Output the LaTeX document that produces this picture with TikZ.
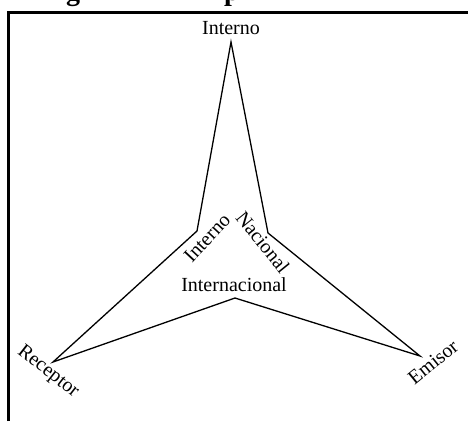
\documentclass[tikz,border=0pt]{standalone}
\usepackage{fontspec}
\setmainfont{Liberation Serif}
\begin{document}
\begin{tikzpicture}[x=1pt,y=-1pt,
  lbl/.style={inner sep=0pt,font=\fontsize{20}{24}\selectfont},
  ttl/.style={inner sep=0pt,font=\fontsize{28}{32}\selectfont\bfseries,anchor=base},
  edge/.style={line width=1.3pt,line join=miter}]
\useasboundingbox (0,0) rectangle (468,421);
% cropped title fragments
\node[ttl] (tg) at (73,0.5) {g};
\node[ttl] (tp) at (232,0.5) {p};
% frame
\draw[line width=3pt] (8,421) -- (8,12) -- (470,12);
% star vertices
\coordinate (top) at (231,42);
\coordinate (il) at (197,231);
\coordinate (ir) at (268,233);
\coordinate (rec) at (53,362);
\coordinate (ib) at (235,298);
\coordinate (emi) at (420,356);
\draw[edge] (top) -- (ir) -- (emi) -- (ib) -- (rec) -- (il) -- cycle;
% labels
\node[lbl] (ltop) at (231,28) {Interno};
\node[lbl] (lint) at (234,285) {Internacional};
\node[lbl,rotate=47] (lil) at (207,238) {Interno};
\node[lbl,rotate=-51] (lnac) at (263,242) {Nacional};
\node[lbl,rotate=-38] (lrec) at (48,372) {Receptor};
\node[lbl,rotate=39] (lemi) at (433,362) {Emisor};
\end{tikzpicture}
\end{document}
